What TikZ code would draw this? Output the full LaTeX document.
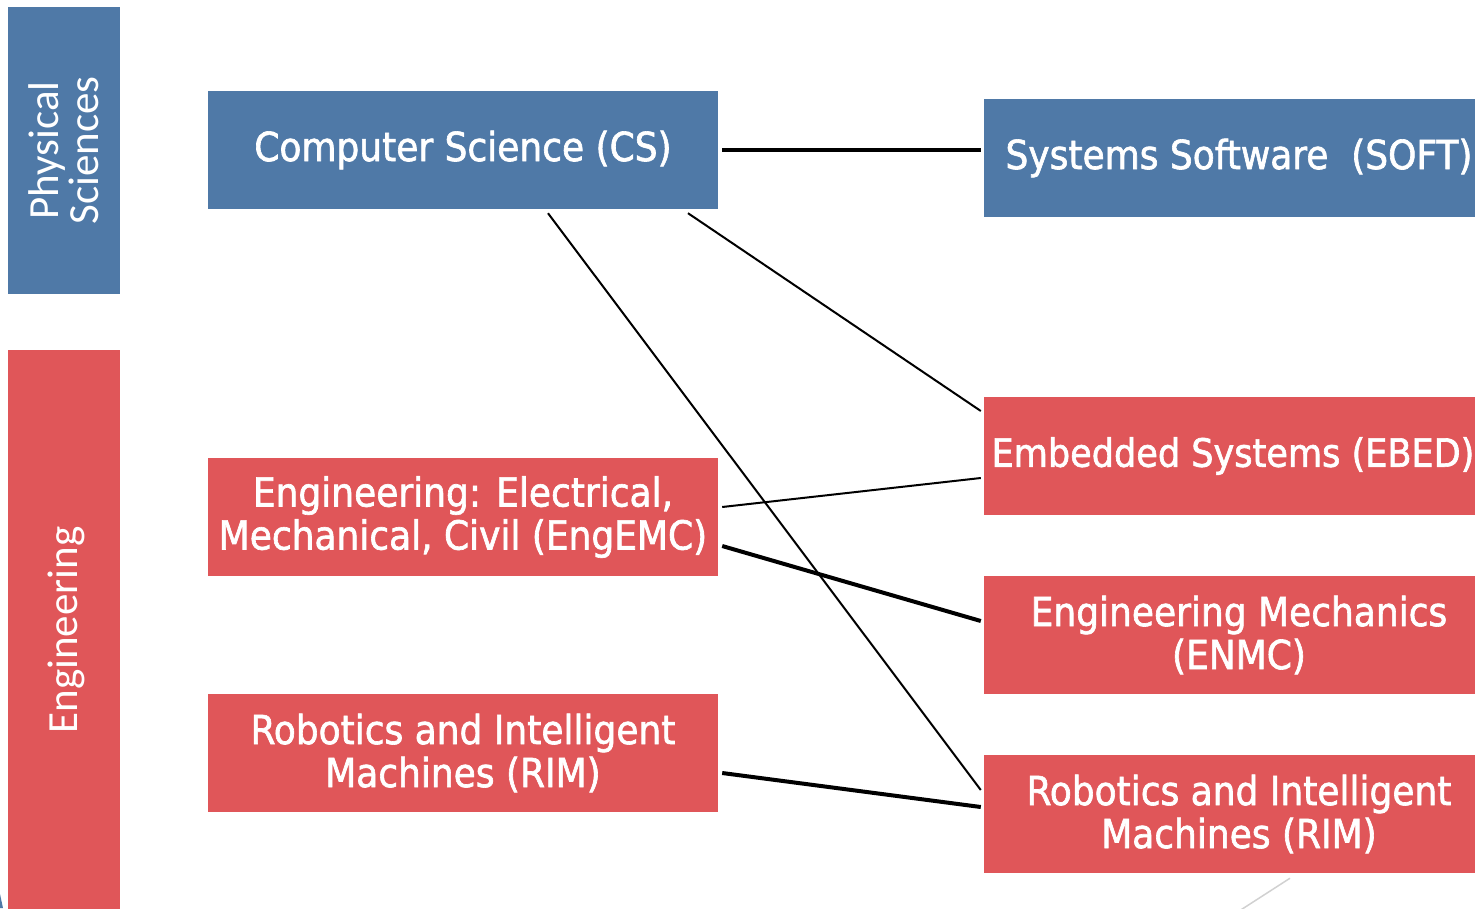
\documentclass[tikz,border=0pt]{standalone}
\usepackage{fontspec}
\setmainfont{DejaVu Sans Condensed}
\newfontfamily\boxfont{DejaVu Sans Condensed}[FakeBold=1.6]
\newfontfamily\sidefont{Carlito}
\definecolor{psblue}{RGB}{79,121,167}
\definecolor{engred}{RGB}{224,86,89}
\tikzset{
  box/.style={rectangle, minimum width=510pt, minimum height=118pt, inner sep=0pt,
    text=white, align=center, font=\boxfont\fontsize{40}{43}\selectfont},
  bluebox/.style={box, fill=psblue},
  redbox/.style={box, fill=engred},
  sidebox/.style={rectangle, inner sep=0pt},
  sidelabel/.style={text=white, align=center, rotate=90, font=\sidefont\fontsize{43}{40}\selectfont},
  thinlink/.style={line width=2pt, black},
  thicklink/.style={line width=4pt, black},
}
\begin{document}
\begin{tikzpicture}[x=1pt,y=-1pt]
\useasboundingbox (0,0) rectangle (1475,908);
% side categories
\node[sidebox, fill=psblue, minimum width=112pt, minimum height=287pt] (phys) at (64,150.5) {};
\node[sidelabel] (physl) at (phys.center) {Physical\\Sciences};
\node[sidebox, fill=engred, minimum width=112pt, minimum height=570pt] (engside) at (64,635) {};
\node[sidelabel] (engl) at (66,630) {Engineering};
\fill[psblue] (0,894) -- (3,908) -- (0,908) -- cycle;
% left boxes
\node[bluebox] (cs) at (463,150) {Computer Science (CS)};
\node[redbox] (eng) at (463,517) {Engineering: Electrical,\\Mechanical, Civil (EngEMC)};
\node[redbox] (rim) at (463,753) {Robotics and Intelligent\\Machines (RIM)};
% right boxes
\node[bluebox] (soft) at (1239,158) {Systems Software\ \ (SOFT)};
\node[redbox, font=\boxfont\fontsize{39}{43}\selectfont] (ebed) at (1239,456) {\hspace*{-12pt}Embedded Systems (EBED)};
\node[redbox] (enmc) at (1239,635) {Engineering Mechanics\\(ENMC)};
\node[redbox] (rimr) at (1239,814) {Robotics and Intelligent\\Machines (RIM)};
% connectors
\draw[thicklink] ([shift={(4,0)}]cs.east) -- ([shift={(-3,0)}]cs.east -| soft.west);
\draw[thinlink] ([shift={(225,4)}]cs.south) -- ([shift={(-3,-45)}]ebed.west);
\draw[thinlink] ([shift={(85,4)}]cs.south) -- ([shift={(-3,-24)}]rimr.west);
\draw[thinlink] ([shift={(4,-10)}]eng.east) -- ([shift={(-3,22)}]ebed.west);
\draw[thicklink] ([shift={(4,29)}]eng.east) -- ([shift={(-3,-14)}]enmc.west);
\draw[thicklink] ([shift={(4,20)}]rim.east) -- ([shift={(-3,-7)}]rimr.west);
\coordinate (greyend) at (1236,913);
\draw[line width=1.5pt, black!18] ([shift={(51,5)}]rimr.south) -- (greyend);
\end{tikzpicture}
\end{document}
